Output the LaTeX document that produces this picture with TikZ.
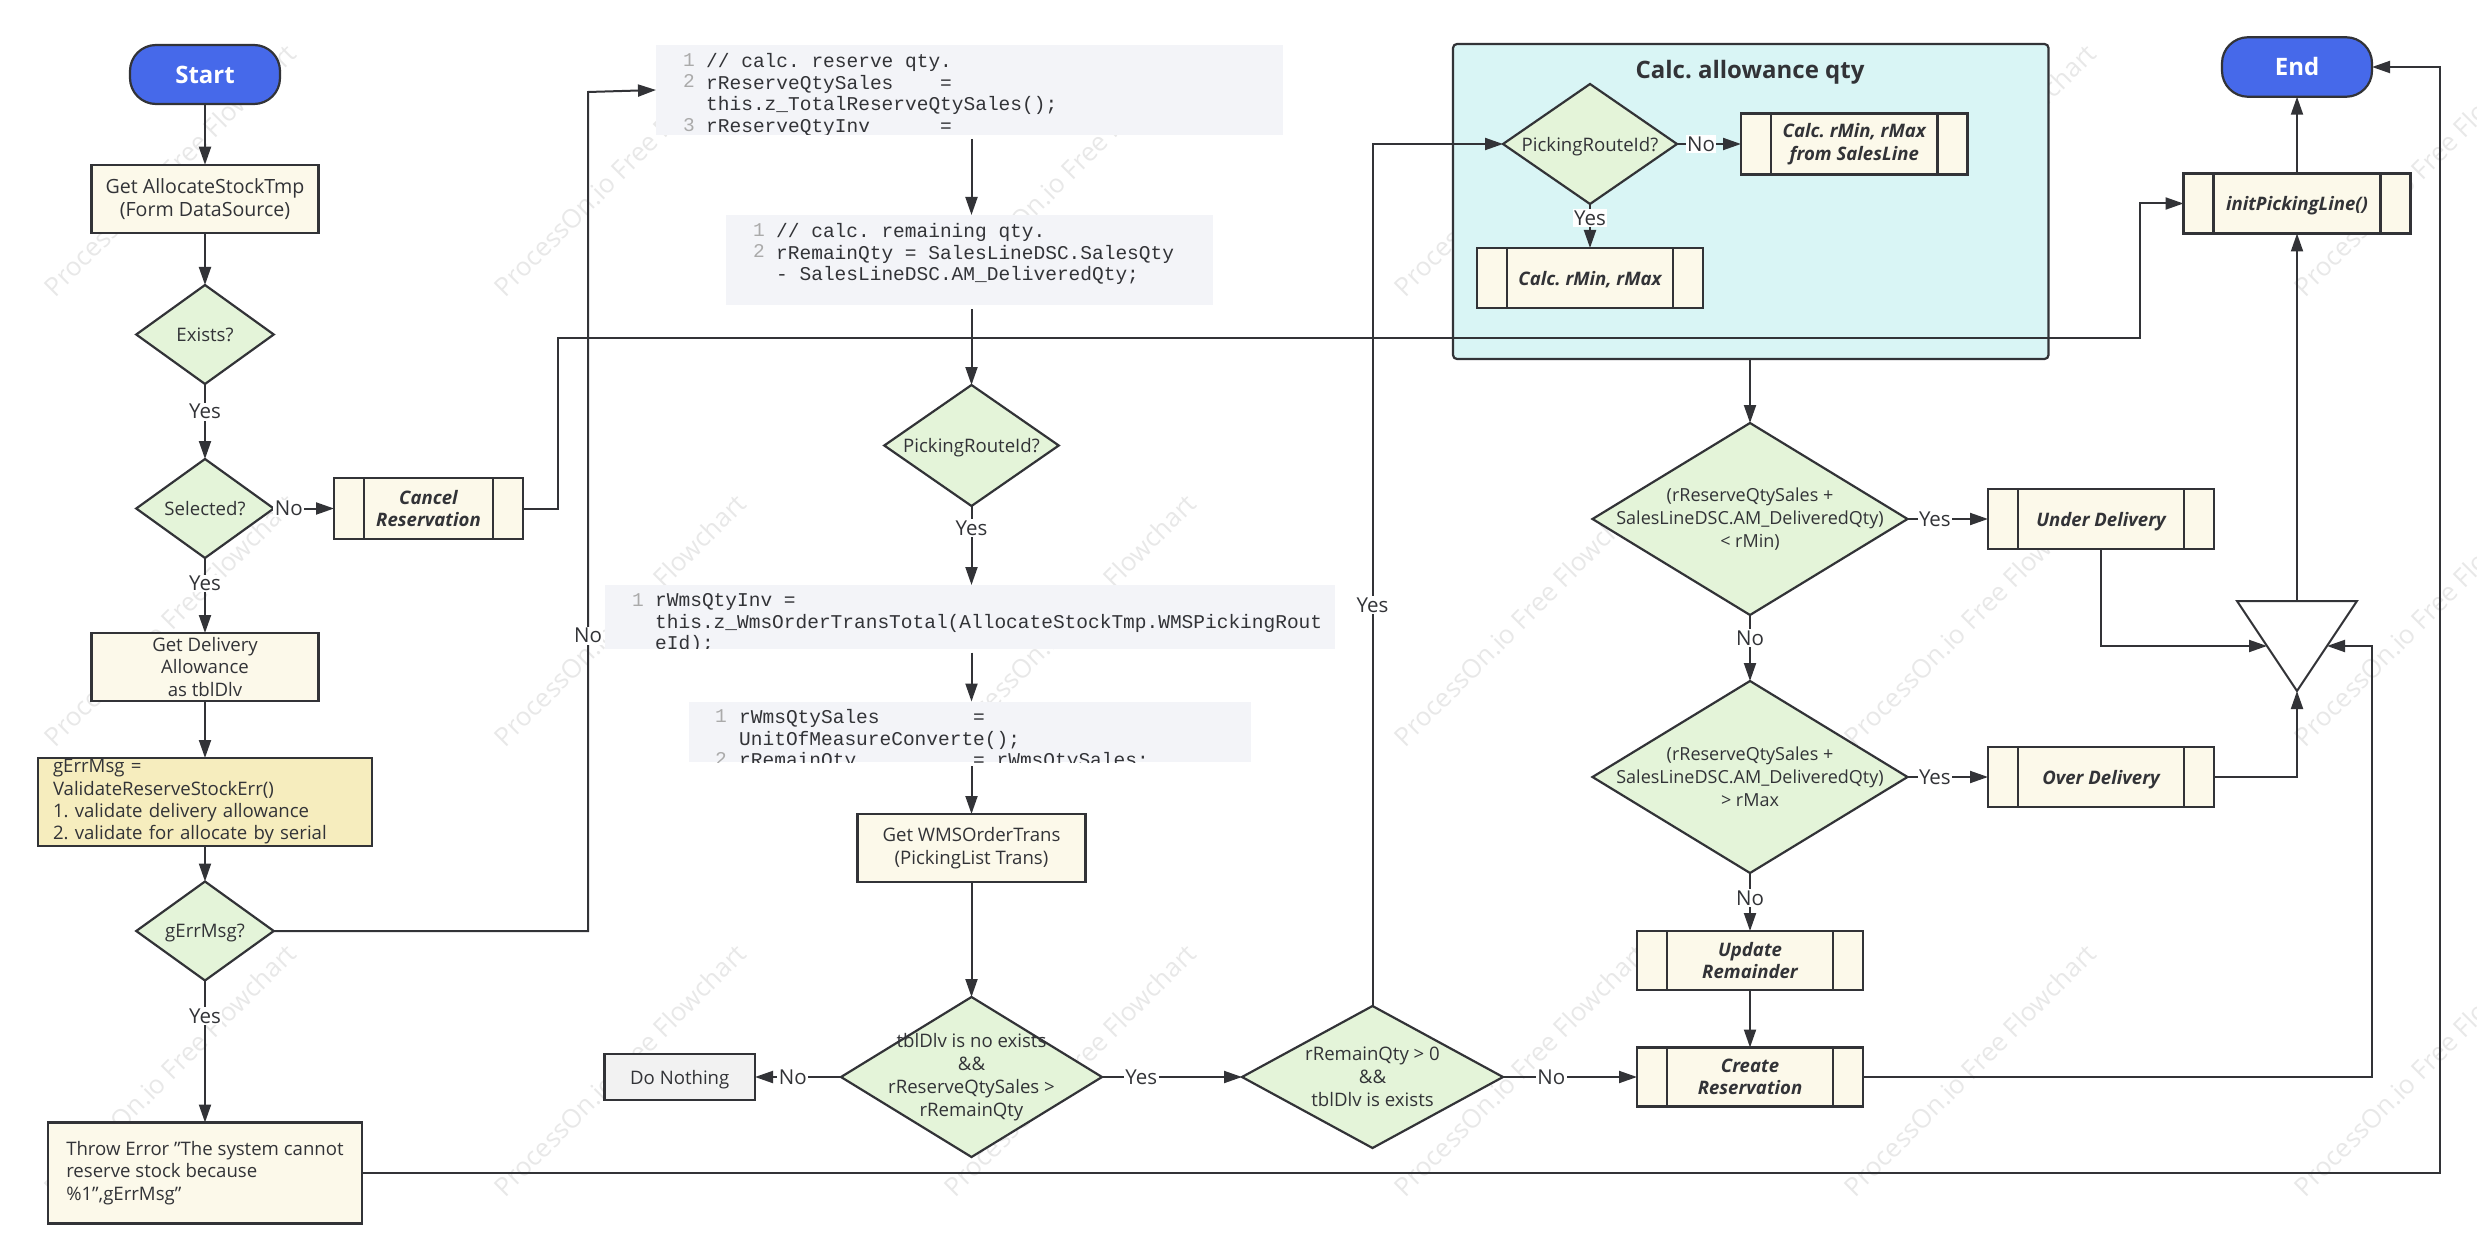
\documentclass[tikz,border=0pt]{standalone}
\usepackage{fontspec}
\setmainfont{Open Sans}
\setmonofont{Liberation Mono}
\usepackage{xcolor}
\usetikzlibrary{shapes.geometric, arrows.meta}
\definecolor{Flow-Line}{RGB}{50, 51, 55}
\definecolor{Flow-Blue}{RGB}{70, 105, 234}
\definecolor{Flow-Cream}{RGB}{252, 249, 234}
\definecolor{Flow-Green}{RGB}{228, 244, 217}
\definecolor{Flow-Yellow}{RGB}{246, 237, 190}
\definecolor{Flow-Cyan}{RGB}{217, 245, 245}
\definecolor{Flow-Gray}{RGB}{242, 242, 242}
\definecolor{Flow-Code}{RGB}{243, 244, 248}
\definecolor{Flow-Num}{RGB}{170, 170, 170}
\definecolor{Flow-Mark}{RGB}{232, 232, 232}
\tikzset{
    base/.style={draw=Flow-Line, line width=2.2pt, text=Flow-Line, align=center, inner sep=0pt, outer sep=0pt},
    terminal/.style={base, fill=Flow-Blue, rounded corners=26pt, font=\fontsize{24}{28}\selectfont\bfseries, text=white},
    procbox/.style={base, rectangle, fill=Flow-Cream},
    predproc/.style={procbox, font=\fontsize{18.6}{22.5}\selectfont\bfseries\itshape,
        path picture={
            \draw[Flow-Line, line width=2.2pt] ([xshift=30pt]path picture bounding box.north west) -- ([xshift=30pt]path picture bounding box.south west);
            \draw[Flow-Line, line width=2.2pt] ([xshift=-30pt]path picture bounding box.north east) -- ([xshift=-30pt]path picture bounding box.south east);
        }},
    decision/.style={base, diamond, fill=Flow-Green, inner sep=-40pt},
    longdecision/.style={decision, font=\fontsize{18}{22.8}\selectfont},
    codebox/.style={fill=Flow-Code, inner sep=0pt, outer sep=0pt},
    codetext/.style={anchor=north west, inner sep=0pt, align=left, text=Flow-Line, font=\fontsize{19.5}{21.8}\selectfont\ttfamily},
    codenum/.style={codetext, anchor=north, align=center, text=Flow-Num},
    flow/.style={-{Triangle[length=18pt, width=12pt]}, draw=Flow-Line, line width=2pt},
    fromcode/.style={flow, shorten <=4pt},
    lab/.style={fill=white, inner sep=1.5pt, text=Flow-Line, font=\fontsize{20.5}{24}\selectfont},
    oneline/.style={text depth=0pt},
    watermark/.style={rotate=45, text=Flow-Mark, font=\fontsize{26}{30}\selectfont},
}
\frenchspacing

\begin{document}
\begin{tikzpicture}[x=1pt, y=-1pt, font=\fontsize{18.6}{22.8}\selectfont]

    \useasboundingbox (0,0) rectangle (2477,1260);

    \foreach \col in {0,...,5}
        \foreach \row in {0,1,2}
            \node[watermark] (mark\col\row) at (170+450*\col, 170+450*\row) {ProcessOn.io Free Flowchart};

    \node[terminal, minimum width=150pt, minimum height=59pt] (start) at (205,74.5) {Start};
    \node[procbox, minimum width=227pt, minimum height=68.5pt, font=\fontsize{19.6}{22.8}\selectfont] (getstock) at (205,199) {Get AllocateStockTmp\\(Form DataSource)};
    \node[decision, minimum width=137.5pt, minimum height=99pt] (exists) at (205,334.5) {Exists?};
    \node[decision, minimum width=137.5pt, minimum height=99pt] (selected) at (205,508.5) {Selected?};
    \node[predproc, minimum width=189pt, minimum height=61pt] (cancel) at (428.5,508.5) {Cancel\\Reservation};
    \node[procbox, minimum width=227pt, minimum height=68pt] (getallow) at (205,667) {Get Delivery\\Allowance\\as tblDlv};
    \node[procbox, fill=Flow-Yellow, minimum width=334.5pt, minimum height=88pt, text width=304pt, align=left, font=\fontsize{18.6}{22.3}\selectfont] (validate) at (205,802) {gErrMsg =\\ValidateReserveStockErr()\\1. validate delivery allowance\\2. validate for allocate by serial};
    \node[decision, minimum width=137.5pt, minimum height=99pt, oneline] (gerr) at (205,931) {gErrMsg?};
    \node[procbox, minimum width=314.5pt, minimum height=101pt, align=left] (throw) at (205,1173) {Throw Error "The system cannot\\reserve stock because\\\%1",gErrMsg"};

    \node[codebox, minimum width=627pt, minimum height=90pt] (calcreserve) at (969.5,90) {};
    \begin{scope}
        \clip (calcreserve.south west) rectangle (calcreserve.north east);
        \node[codenum] (calcreservenum) at (689,53) {1\\2\\\\3};
        \node[codetext] (calcreservetxt) at (706,53) {// calc. reserve qty.\\rReserveQtySales~~~~=\\this.z\_TotalReserveQtySales();\\rReserveQtyInv~~~~~~=};
    \end{scope}

    \node[codebox, minimum width=487pt, minimum height=90pt] (calcremain) at (969.5,260) {};
    \node[codenum] (calcremainnum) at (759,223) {1\\2};
    \node[codetext] (calcremaintxt) at (776,223) {// calc. remaining qty.\\rRemainQty = SalesLineDSC.SalesQty\\- SalesLineDSC.AM\_DeliveredQty;};

    \node[decision, minimum width=174.5pt, minimum height=121pt, oneline] (route) at (971.5,445.5) {PickingRouteId?};

    \node[codebox, minimum width=730pt, minimum height=63.5pt] (wmsinv) at (970,616.75) {};
    \begin{scope}
        \clip (wmsinv.south west) rectangle (wmsinv.north east);
        \node[codenum] (wmsinvnum) at (638,593) {1};
        \node[codetext] (wmsinvtxt) at (655,593) {rWmsQtyInv =\\this.z\_WmsOrderTransTotal(AllocateStockTmp.WMSPickingRout\\eId);};
    \end{scope}

    \node[codebox, minimum width=562pt, minimum height=60.5pt] (wmssales) at (970,731.75) {};
    \begin{scope}
        \clip (wmssales.south west) rectangle (wmssales.north east);
        \node[codenum] (wmssalesnum) at (721,709) {1\\\\2};
        \node[codetext] (wmssalestxt) at (739,709) {rWmsQtySales~~~~~~~~=\\UnitOfMeasureConverte();\\rRemainQty~~~~~~~~~~= rWmsQtySales;};
    \end{scope}

    \node[procbox, minimum width=228pt, minimum height=68pt] (getwms) at (971.5,848) {Get WMSOrderTrans\\(PickingList Trans)};
    \node[decision, minimum width=261pt, minimum height=160pt] (tbldlv) at (971.5,1077) {tblDlv is no exists\\\&\&\\rReserveQtySales >\\rRemainQty};
    \node[procbox, fill=Flow-Gray, minimum width=150.5pt, minimum height=45.5pt, oneline] (nothing) at (679.75,1077) {Do Nothing};
    \node[decision, minimum width=261pt, minimum height=142pt] (remain) at (1372.5,1077) {rRemainQty > 0\\\&\&\\tblDlv is exists};

    \node[base, rectangle, fill=Flow-Cyan, rounded corners=4pt, minimum width=595.5pt, minimum height=315pt] (allowance) at (1750.75,201.5) {};
    \node[text=Flow-Line, font=\fontsize{24}{28}\selectfont\bfseries] (allowancetitle) at (1750,72) {Calc. allowance qty};
    \node[decision, minimum width=174pt, minimum height=120pt, oneline] (innerroute) at (1590,144) {PickingRouteId?};
    \node[predproc, minimum width=226.5pt, minimum height=61pt] (rminsales) at (1854.25,144) {Calc. rMin, rMax\\from SalesLine};
    \node[predproc, minimum width=226pt, minimum height=60pt, oneline] (rmin) at (1590,278) {Calc. rMin, rMax};

    \node[longdecision, minimum width=315pt, minimum height=192pt] (under) at (1750,519) {(rReserveQtySales +\\SalesLineDSC.AM\_DeliveredQty)\\< rMin)};
    \node[predproc, minimum width=226pt, minimum height=60.5pt, oneline] (underbox) at (2101,519) {Under Delivery};
    \node[longdecision, minimum width=315pt, minimum height=192pt] (over) at (1750,777) {(rReserveQtySales +\\SalesLineDSC.AM\_DeliveredQty)\\> rMax};
    \node[predproc, minimum width=226pt, minimum height=60pt, oneline] (overbox) at (2101,777) {Over Delivery};
    \node[predproc, minimum width=226pt, minimum height=59pt] (update) at (1750,960.5) {Update\\Remainder};
    \node[predproc, minimum width=226pt, minimum height=59pt] (create) at (1750,1077) {Create\\Reservation};

    \node[base, isosceles triangle, shape border rotate=-90, isosceles triangle stretches, fill=white, line width=2pt, minimum width=120pt, minimum height=90pt, anchor=apex] (merge) at (2297,691) {};
    \node[predproc, minimum width=227pt, minimum height=60pt, oneline] (init) at (2297,203.5) {initPickingLine()};
    \node[terminal, minimum width=150pt, minimum height=59.5pt] (end) at (2297,67) {End};

    \coordinate (reservecorner) at (588,92);
    \coordinate (throwcorner) at (2440,1173);
    \coordinate (cancelleft) at (558,338);
    \coordinate (cancelright) at (2139.5,338);
    \coordinate (createcorner) at (2372,1077);

    \draw[flow] (start.south) -- (getstock.north);
    \draw[flow] (getstock.south) -- (exists.north);
    \draw[flow] (exists.south) -- node[lab, pos=.37] (labA) {Yes} (selected.north);
    \draw[flow] (selected.east) -- node[lab, pos=.25] (labB) {No} (cancel.west);
    \draw[flow] (selected.south) -- node[lab, pos=.34] (labC) {Yes} (getallow.north);
    \draw[flow] (getallow.south) -- (validate.north);
    \draw[flow] (validate.south) -- (gerr.north);
    \draw[flow] (gerr.south) -- node[lab, pos=.25] (labD) {Yes} (throw.north);
    \draw[flow] (gerr.east) -| node[lab, pos=.676] (labE) {No} (reservecorner) -- (calcreserve.west);
    \draw[flow] (throw.east) -- (throwcorner) |- (end.east);
    \draw[flow] (cancel.east) -| (cancelleft) -- (cancelright) |- (init.west);

    \draw[fromcode] (calcreserve.south -| route.north) -- (calcremain.north -| route.north);
    \draw[fromcode] (calcremain.south -| route.north) -- (route.north);
    \draw[flow] (route.south) -- node[lab, pos=.28] (labF) {Yes} (wmsinv.north -| route.south);
    \draw[fromcode] (wmsinv.south -| route.north) -- (wmssales.north -| route.north);
    \draw[fromcode] (wmssales.south -| route.north) -- (getwms.north);
    \draw[flow] (getwms.south) -- (tbldlv.north);
    \draw[flow] (tbldlv.west) -- node[lab, pos=.56] (labG) {No} (nothing.east);
    \draw[flow] (tbldlv.east) -- node[lab, pos=.28] (labH) {Yes} (remain.west);
    \draw[flow] (remain.east) -- node[lab, pos=.36] (labI) {No} (create.west);
    \draw[flow] (remain.north) |- node[lab, pos=.2326] (labJ) {Yes} (innerroute.west);

    \draw[flow] (innerroute.east) -- node[lab, pos=.375] (labK) {No} (rminsales.west);
    \draw[flow] (innerroute.south) -- node[lab, pos=.32] (labL) {Yes} (rmin.north);

    \draw[flow] (allowance.south -| under.north) -- (under.north);
    \draw[flow] (under.east) -- node[lab, pos=.34] (labM) {Yes} (underbox.west);
    \draw[flow] (under.south) -- node[lab, pos=.35] (labN) {No} (over.north);
    \draw[flow] (over.east) -- node[lab, pos=.34] (labO) {Yes} (overbox.west);
    \draw[flow] (over.south) -- node[lab, pos=.43] (labP) {No} (update.north);
    \draw[flow] (update.south) -- (create.north);

    \draw[flow] (underbox.south) |- (merge.right side);
    \draw[flow] (overbox.east) -| (merge.apex);
    \draw[flow] (create.east) -- (createcorner) |- (merge.left side);
    \draw[flow] (merge.north) -- (init.south);
    \draw[flow] (init.north) -- (end.south);

\end{tikzpicture}
\end{document}
